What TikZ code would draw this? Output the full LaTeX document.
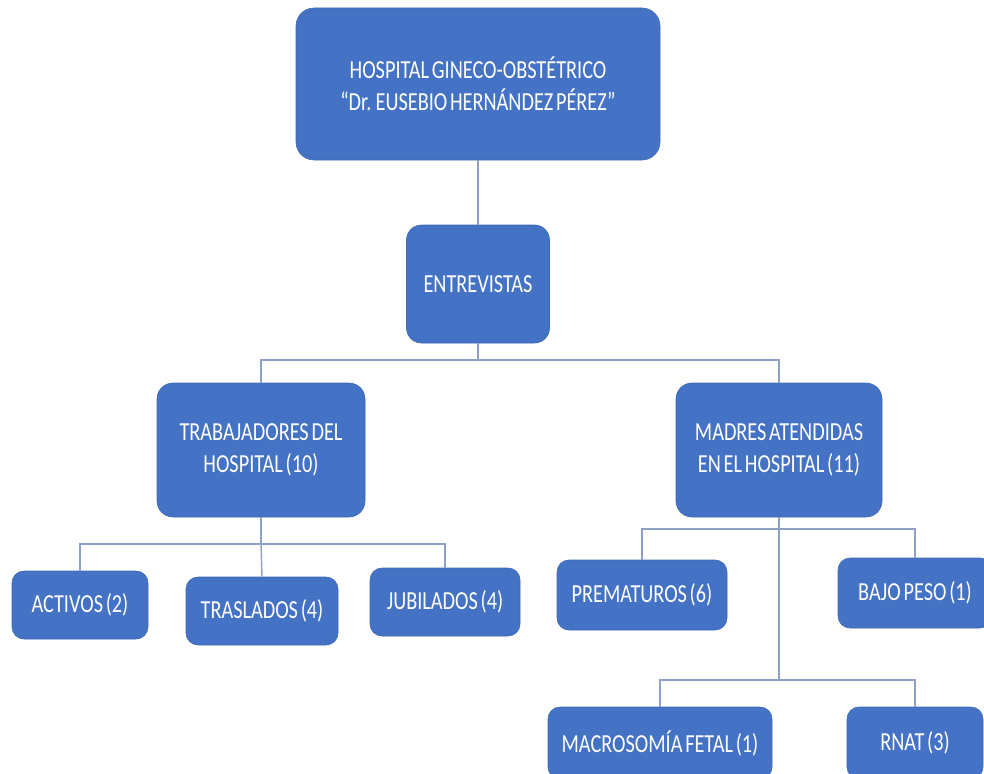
\documentclass[tikz,border=0pt]{standalone}
\usepackage{fontspec}
\setmainfont{Carlito}[FakeStretch=0.78, WordSpace=0.6]
\definecolor{boxblue}{HTML}{4472C4}
\definecolor{boxedge}{HTML}{3E68B5}
\definecolor{linkcol}{HTML}{8E9FC8}
\begin{document}
\begin{tikzpicture}[x=1pt,y=-1pt,
  box/.style={rectangle, rounded corners=#1, fill=boxblue, draw=boxedge, line width=0.6pt,
    text=white, align=center, inner sep=0pt,
    font=\fontsize{26}{32}\selectfont},
  box/.default=12pt,
  link/.style={draw=linkcol, line width=1.4pt}]
\useasboundingbox (0,0) rectangle (984,773);
\clip (0,0) rectangle (984,773);
% nodes
\node[box=18pt, minimum width=364pt, minimum height=152pt] (top) at (478,84)
  {HOSPITAL GINECO-OBSTÉTRICO\\“Dr. EUSEBIO HERNÁNDEZ PÉREZ”};
\node[box=15pt, minimum width=143pt, minimum height=118pt] (ent) at (478,284) {ENTREVISTAS};
\node[box=16pt, minimum width=208pt, minimum height=134pt] (trab) at (261,450)
  {TRABAJADORES DEL\\HOSPITAL (10)};
\node[box=16pt, minimum width=206pt, minimum height=134pt] (madres) at (779,450)
  {MADRES ATENDIDAS\\EN EL HOSPITAL (11)};
\node[box, minimum width=136pt, minimum height=68pt] (act) at (80,605) {ACTIVOS (2)};
\node[box, minimum width=152pt, minimum height=68pt] (tras) at (262,611) {TRASLADOS (4)};
\node[box, minimum width=150pt, minimum height=68pt] (jub) at (445,602) {JUBILADOS (4)};
\node[box, minimum width=170pt, minimum height=70pt] (prem) at (642,595) {PREMATUROS (6)};
\node[box, minimum width=154pt, minimum height=70pt] (bajo) at (915,593) {BAJO PESO (1)};
\node[box, minimum width=224pt, minimum height=72pt] (macro) at (660,743) {MACROSOMÍA FETAL (1)};
\node[box, minimum width=136pt, minimum height=72pt] (rnat) at (915,743) {RNAT (3)};
% junction points
\coordinate (j1) at (478,360);
\coordinate (j2) at (261,544);
\coordinate (j3) at (779,529);
\coordinate (j4) at (779,680);
% connectors
\path[link] (top.south) -- (ent.north);
\path[link] (ent.south) -- (j1);
\path[link] (trab.north) |- (j1) -| (madres.north);
\path[link] (trab.south) -- (j2);
\path[link] (act.north) |- (j2) -| (jub.north);
\path[link] (j2) -- (tras.north);
\path[link] (madres.south) -- (j4);
\path[link] (prem.north) |- (j3) -| (bajo.north);
\path[link] (macro.north) |- (j4) -| (rnat.north);
\end{tikzpicture}
\end{document}
